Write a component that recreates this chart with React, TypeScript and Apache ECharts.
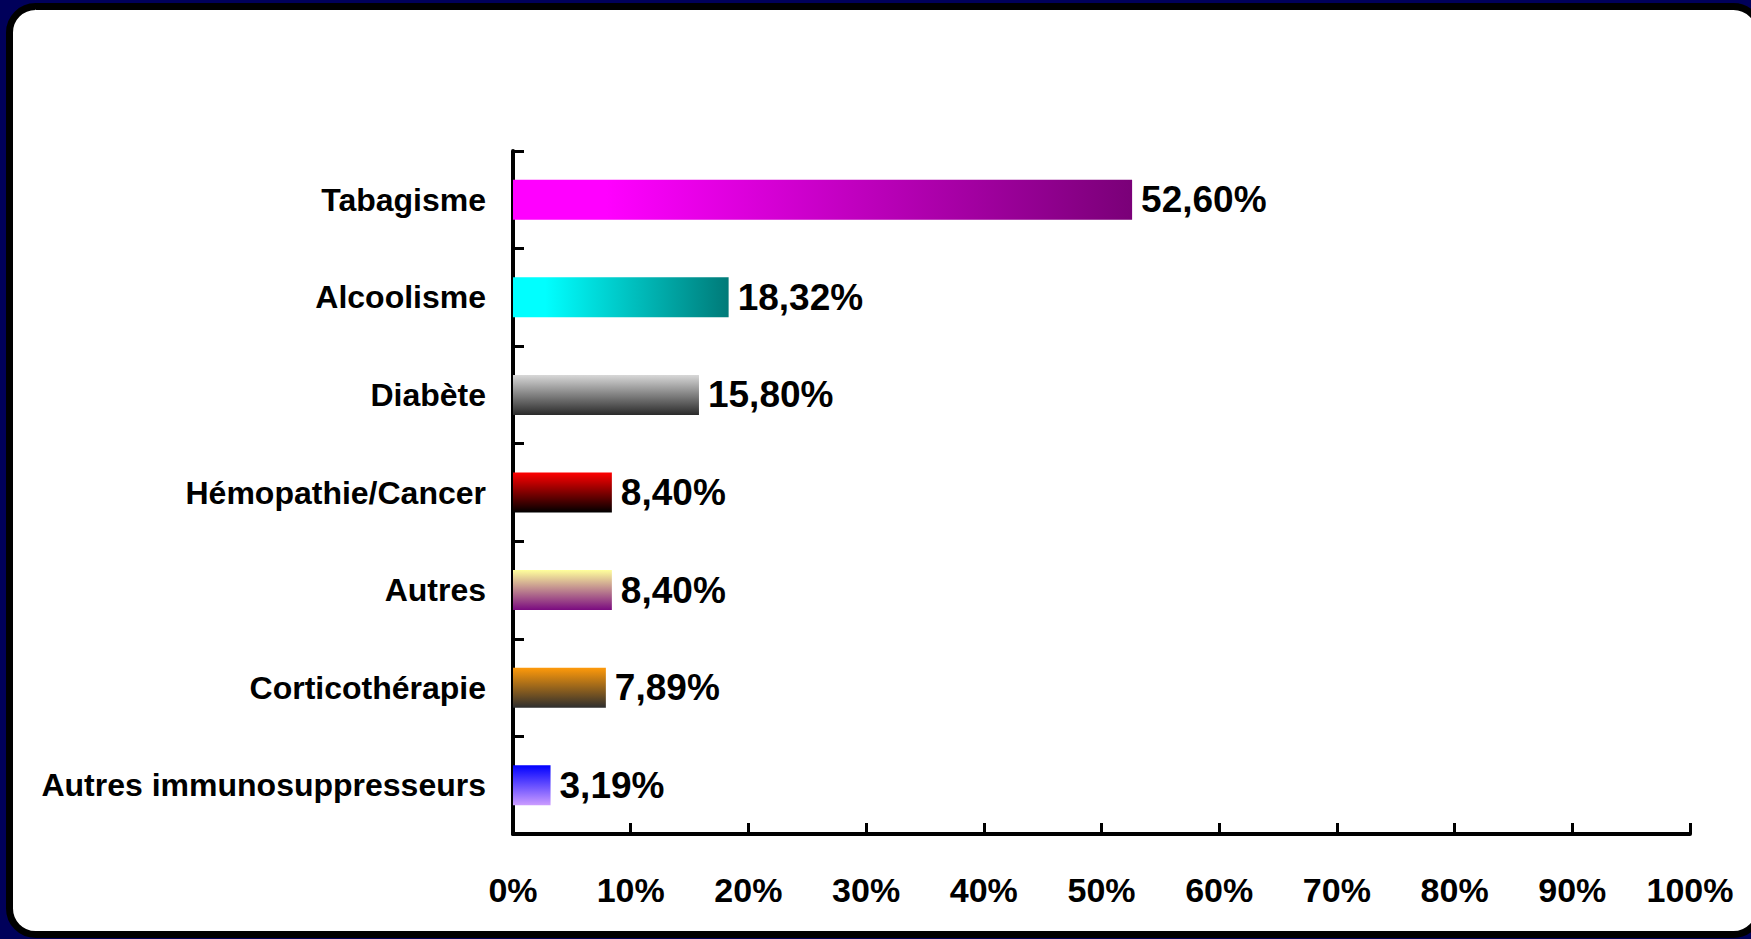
import React, { useEffect, useRef } from "react";
import * as echarts from "echarts";

const categories = [
  "Tabagisme",
  "Alcoolisme",
  "Diabète",
  "Hémopathie/Cancer",
  "Autres",
  "Corticothérapie",
  "Autres immunosuppresseurs",
];
const values = [52.6, 18.32, 15.8, 8.4, 8.4, 7.89, 3.19];
// [start colour, end colour, horizontal?]
const barGradients: [string, string, boolean][] = [
  ["#ff00ff", "#7a0078", true],
  ["#00ffff", "#007a78", true],
  ["#d8d8d8", "#2a2a2a", false],
  ["#ff0000", "#000000", false],
  ["#ffff9c", "#7a0a80", false],
  ["#ff9a0a", "#2e2e2e", false],
  ["#0000ff", "#cc9cff", false],
];
const xTicks = { min: 0, max: 100, interval: 10 };

const FONT = "'Liberation Sans Narrow', 'Arial Narrow', 'Liberation Sans', Arial, sans-serif";

export default function App() {
  const ref = useRef<HTMLDivElement>(null);
  useEffect(() => {
    if (!ref.current) return;
    const chart = echarts.init(ref.current, null, { renderer: "svg" });
    const data = values.map((v, i) => {
      const [c0, c1, horiz] = barGradients[i];
      const stops = horiz
        ? [
            { offset: 0, color: c0 },
            { offset: 0.15, color: c0 },
            { offset: 1, color: c1 },
          ]
        : [
            { offset: 0, color: c0 },
            { offset: 1, color: c1 },
          ];
      return {
        value: v,
        itemStyle: {
          color: new echarts.graphic.LinearGradient(0, 0, horiz ? 1 : 0, horiz ? 0 : 1, stops),
        },
      };
    });
    chart.setOption({
      animation: false,
      backgroundColor: "#00005a",
      graphic: [
        {
          type: "rect",
          z: -10,
          shape: { x: 9.5, y: 6.5, width: 1750, height: 928, r: 26 },
          style: { fill: "#ffffff", stroke: "#000000", lineWidth: 7 },
        },
      ],
      grid: { left: 513, right: 61, top: 151, bottom: 105, containLabel: false },
      xAxis: {
        type: "value",
        min: xTicks.min,
        max: xTicks.max,
        interval: xTicks.interval,
        axisLine: { show: true, lineStyle: { color: "#000", width: 4 } },
        axisTick: { show: true, inside: true, length: 11, lineStyle: { color: "#000", width: 3 } },
        splitLine: { show: false },
        axisLabel: {
          formatter: "{value}%",
          color: "#000",
          fontFamily: FONT,
          fontWeight: "bold",
          fontSize: 34,
          margin: 39,
        },
      },
      yAxis: {
        type: "category",
        data: categories,
        inverse: true,
        axisLine: { show: true, lineStyle: { color: "#000", width: 4 } },
        axisTick: { show: true, inside: true, length: 11, lineStyle: { color: "#000", width: 3 } },
        axisLabel: {
          color: "#000",
          fontFamily: FONT,
          fontWeight: "bold",
          fontSize: 32,
          margin: 27,
        },
      },
      series: [
        {
          type: "bar",
          data,
          barWidth: 40,
          label: {
            show: true,
            position: "right",
            distance: 9,
            color: "#000",
            fontFamily: FONT,
            fontWeight: "bold",
            fontSize: 37,
            formatter: (p: any) => p.value.toFixed(2).replace(".", ",") + "%",
          },
        },
      ],
    });
    return () => chart.dispose();
  }, []);
  return (
    <div
      ref={ref}
      style={{ position: "absolute", left: 0, top: 0, width: 1751, height: 939 }}
    />
  );
}
